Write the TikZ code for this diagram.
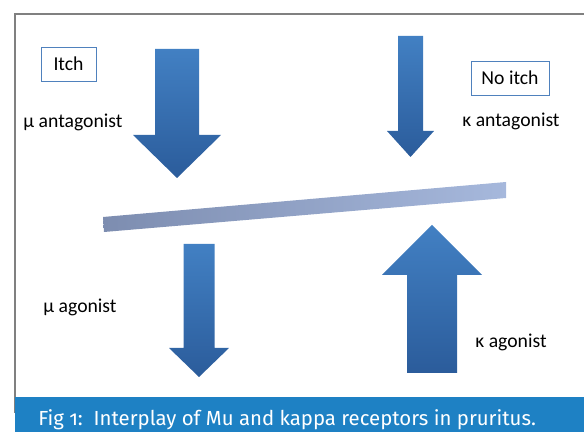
\documentclass[tikz,border=0pt]{standalone}
\usepackage{fontspec}
\setmainfont{Carlito}
\newfontfamily\capfont[Numbers=OldStyle]{Fira Sans}
\usetikzlibrary{positioning,calc}

\definecolor{figblue}{RGB}{30,129,196}
\definecolor{boxblue}{RGB}{79,129,189}
\definecolor{arrtop}{RGB}{66,128,195}
\definecolor{arrmid}{RGB}{45,110,179}
\definecolor{arrbot}{RGB}{43,92,155}
\definecolor{barleft}{RGB}{125,141,176}
\definecolor{barright}{RGB}{166,184,220}

% block arrow: centre x, half shaft, half head, tail y, head base y, tip y
\newcommand{\blockarrow}[6]{%
  \shade[arrowfill] ({#1-#2},#4) -- ({#1+#2},#4) -- ({#1+#2},#5) -- ({#1+#3},#5)
    -- (#1,#6) -- ({#1-#3},#5) -- ({#1-#2},#5) -- cycle;}

\begin{document}
\begin{tikzpicture}[auto,
	box/.style={rectangle,draw=boxblue,line width=0.6pt,inner sep=0pt},
	lbl/.style={inner sep=0pt},
	arrowfill/.style={top color=arrtop,middle color=arrmid,bottom color=arrbot},
	bar/.style={left color=barleft,right color=barright},
	font=\fontsize{14}{16}\selectfont]

    \useasboundingbox (0cm,0cm) rectangle (14.6cm,10.8cm);
    \draw[gray,line width=0.8pt] (0.375cm,0.5cm) rectangle (14.8cm,10.45cm);

    % the receptor balance
    \shade[bar] (2.575,5.375) -- (12.65,6.25) -- (12.65,5.85) -- (2.6,5.0) -- cycle;

    \blockarrow{4.425}{0.55}{1.1}{9.575}{7.425}{6.35}
    \blockarrow{10.2625}{0.3125}{0.5875}{9.9}{7.525}{6.875}
    \blockarrow{4.975}{0.3875}{0.75}{4.7}{2.1}{1.375}
    \blockarrow{10.8}{0.625}{1.25}{1.475}{3.925}{5.175}

    \node (Itch) at (1.7125cm,9.2cm) [box,minimum width=1.375cm,minimum height=0.85cm] {Itch};
    \node (NoItch) at (12.75cm,8.85cm) [box,minimum width=1.95cm,minimum height=0.85cm] {No itch};

    \node (MuAnt) at (1.825cm,7.75cm) [lbl] {μ antagonist};
    \node (KapAnt) at (12.775cm,7.775cm) [lbl] {κ antagonist};
    \node (MuAg) at (2.0cm,3.125cm) [lbl] {μ agonist};
    \node (KapAg) at (12.775cm,2.25cm) [lbl] {κ agonist};

    \fill[figblue] (0.375cm,0cm) rectangle (14.6cm,0.875cm);
    \node (Caption) at (0.95cm,0.15cm) [anchor=base west,inner sep=0pt,text=white,font=\capfont\fontsize{14.5}{16}\selectfont]
    	{Fig 1:\ \ Interplay of Mu and kappa receptors in pruritus.};

\end{tikzpicture}
\end{document}
